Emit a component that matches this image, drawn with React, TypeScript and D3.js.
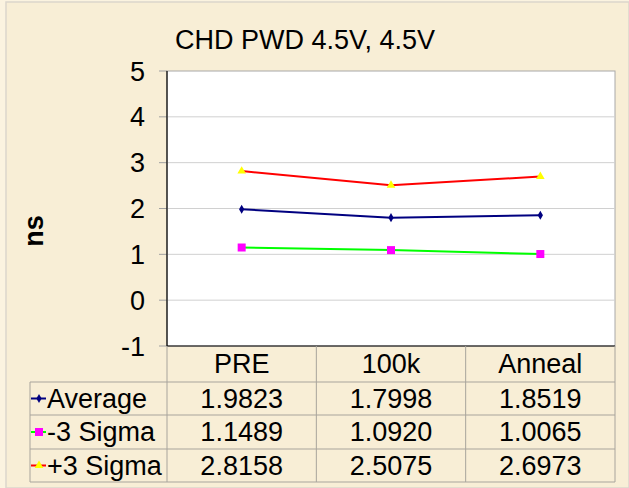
import React from "react";
import * as d3 from "d3";

const title = "CHD PWD 4.5V, 4.5V";
const categories = ["PRE", "100k", "Anneal"];
const seriesNames = ["Average", "-3 Sigma", "+3 Sigma"];
const averageValues = [1.9823, 1.7998, 1.8519];
const minusSigmaValues = [1.1489, 1.092, 1.0065];
const plusSigmaValues = [2.8158, 2.5075, 2.6973];
const yTicks = [-1, 0, 1, 2, 3, 4, 5];
const yLabel = "ns";

const W = 629;
const H = 488;
const plotL = 167;
const plotR = 615;
const plotT = 71;
const plotB = 346;
const rowLines = [382, 415, 449, 482];
const tableL = 30;
const FONT = "Arial, 'Liberation Sans', sans-serif";
const FS = 27;

type Series = { name: string; values: number[]; line: string; marker: string; shape: string };
const series: Series[] = [
  { name: seriesNames[0], values: averageValues, line: "#000080", marker: "#000080", shape: "diamond" },
  { name: seriesNames[1], values: minusSigmaValues, line: "#00ff00", marker: "#ff00ff", shape: "square" },
  { name: seriesNames[2], values: plusSigmaValues, line: "#ff0000", marker: "#ffff00", shape: "triangle" },
];

function Marker({ s, x, y }: { s: Series; x: number; y: number }) {
  if (s.shape === "diamond") {
    const p = d3.symbol(d3.symbolDiamond, 24)();
    return <path d={p!} transform={`translate(${x},${y})`} fill={s.marker} />;
  }
  if (s.shape === "square") {
    return <rect x={x - 4} y={y - 4} width={8} height={8} fill={s.marker} />;
  }
  const p = d3.symbol(d3.symbolTriangle, 32)();
  return <path d={p!} transform={`translate(${x},${y})`} fill={s.marker} />;
}

export default function App() {
  const x = d3.scaleBand<string>().domain(categories).range([plotL, plotR]);
  const y = d3.scaleLinear().domain([-1, 5]).range([plotB, plotT]);
  const cx = (c: string) => (x(c) as number) + x.bandwidth() / 2;
  const line = d3
    .line<number>()
    .x((_, i) => cx(categories[i]))
    .y((v) => y(v));

  const fmt = d3.format(".4f");
  const colEdges = [plotL, ...categories.map((c) => (x(c) as number) + x.bandwidth())];

  return (
    <svg width={W} height={H} style={{ position: "absolute", left: 0, top: 0, fontFamily: FONT }}>
      <rect x={0} y={0} width={W} height={H} fill="#fbf3e0" />
      <rect x={6} y={2} width={W - 6} height={H - 2} fill="#f8eed6" stroke="#dcd6cc" strokeWidth={1.5} />
      <text x={305} y={49} textAnchor="middle" fontSize={FS} fill="#000">
        {title}
      </text>
      {/* plot area */}
      <rect x={plotL} y={plotT} width={plotR - plotL} height={plotB - plotT} fill="#ffffff" stroke="#a8a8a8" strokeWidth={1} />
      {yTicks.map((t) => (
        <g key={t}>
          {t > -1 && t < 5 && (
            <line x1={plotL} x2={plotR} y1={y(t)} y2={y(t)} stroke="#d0d0d0" strokeWidth={1} />
          )}
          <line x1={plotL - 8} x2={plotL} y1={y(t)} y2={y(t)} stroke="#a0a0a0" strokeWidth={1} />
          <text x={145} y={y(t) + 9.5} textAnchor="end" fontSize={FS} fill="#000">
            {t}
          </text>
        </g>
      ))}
      <line x1={plotL} x2={plotL} y1={plotT} y2={plotB} stroke="#000" strokeWidth={1.2} />
      <line x1={plotL} x2={plotR} y1={plotB} y2={plotB} stroke="#000" strokeWidth={1.2} />
      <text
        transform={`translate(43,231) rotate(-90)`}
        textAnchor="middle"
        fontSize={FS}
        fontWeight="bold"
        fill="#000"
      >
        {yLabel}
      </text>
      {/* series */}
      {series.map((s) => (
        <g key={s.name}>
          <path d={line(s.values)!} fill="none" stroke={s.line} strokeWidth={2} />
          {s.values.map((v, i) => (
            <Marker key={i} s={s} x={cx(categories[i])} y={y(v)} />
          ))}
        </g>
      ))}
      {/* data table */}
      {colEdges.map((e, i) => (
        <line key={i} x1={e} x2={e} y1={plotB} y2={rowLines[3]} stroke="#a8a49c" strokeWidth={1} />
      ))}
      <line x1={tableL} x2={tableL} y1={rowLines[0]} y2={rowLines[3]} stroke="#a8a49c" strokeWidth={1} />
      {rowLines.map((r, i) => (
        <line key={i} x1={tableL} x2={plotR} y1={r} y2={r} stroke="#a8a49c" strokeWidth={1} />
      ))}
      {categories.map((c) => (
        <text key={c} x={cx(c)} y={373} textAnchor="middle" fontSize={FS} fill="#000">
          {c}
        </text>
      ))}
      {series.map((s, si) => {
        const mid = (rowLines[si] + rowLines[si + 1]) / 2;
        return (
          <g key={s.name}>
            <line x1={31} x2={46} y1={mid} y2={mid} stroke={s.line} strokeWidth={2} />
            <Marker s={s} x={39} y={mid} />
            <text x={47} y={mid + 9} fontSize={FS} fill="#000">
              {s.name}
            </text>
            {s.values.map((v, i) => (
              <text key={i} x={cx(categories[i])} y={mid + 9} textAnchor="middle" fontSize={FS} fill="#000">
                {fmt(v)}
              </text>
            ))}
          </g>
        );
      })}
    </svg>
  );
}
